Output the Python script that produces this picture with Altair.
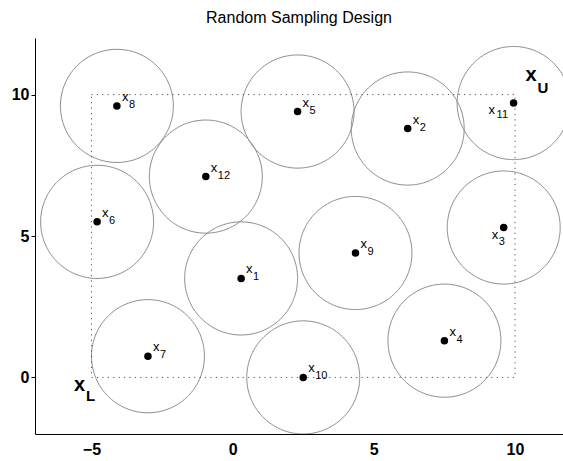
import altair as alt
import numpy as np
import pandas as pd

# Sample points x1..x12
idx = ["1", "2", "3", "4", "5", "6", "7", "8", "9", "10", "11", "12"]
px = [0.3, 6.2, 9.6, 7.5, 2.3, -4.8, -3.0, -4.1, 4.35, 2.5, 9.95, -0.95]
py = [3.5, 8.8, 5.3, 1.3, 9.4, 5.5, 0.75, 9.6, 4.4, 0.0, 9.7, 7.1]
# where each label sits relative to its point
label_side = ["ur", "ur", "ll", "ur", "ur", "ur", "ur", "ur", "ur", "ur", "l", "ur"]
radius = 2.0

# design bounds
lower = (-5, 0)
upper = (10, 10)

x_ticks = [-5, 0, 5, 10]
y_ticks = [0, 5, 10]

pts = pd.DataFrame({"id": idx, "x": px, "y": py, "side": label_side})

# circle outlines around each point
theta = np.linspace(0, 2 * np.pi, 181)
rows = []
for i, cx, cy in zip(idx, px, py):
    for k, t in enumerate(theta):
        rows.append({"id": i, "k": k, "x": cx + radius * np.cos(t), "y": cy + radius * np.sin(t)})
circ = pd.DataFrame(rows)

box = pd.DataFrame({"x": [lower[0]], "y": [lower[1]], "x2": [upper[0]], "y2": [upper[1]]})
corners = pd.DataFrame({"x": [lower[0], upper[0]], "y": [lower[1], upper[1]],
                        "main": ["x", "x"], "sub": ["L", "U"], "which": ["L", "U"]})

FONT = "Liberation Sans"
xs = alt.Scale(domain=[-7, 11.7], nice=False, zero=False)
ys = alt.Scale(domain=[-2, 12], nice=False, zero=False)
X = alt.X("x:Q", scale=xs, axis=alt.Axis(values=x_ticks, title=None, grid=False, tickSize=0,
                                         labelPadding=7, labelFontSize=16, labelFontWeight="bold",
                                         labelFont=FONT, labelColor="black", domainColor="black",
                                         labelFlush=False))
Y = alt.Y("y:Q", scale=ys, axis=alt.Axis(values=y_ticks, title=None, grid=False, tickSize=4,
                                         tickColor="black", labelPadding=2, labelFontSize=16,
                                         labelFontWeight="bold", labelFont=FONT, labelColor="black",
                                         domainColor="black", labelFlush=False))

circles = alt.Chart(circ).mark_line(color="#8c8c8c", strokeWidth=1, clip=True).encode(
    x=X, y=Y, detail="id:N", order="k:Q")

rect = alt.Chart(box).mark_rect(filled=False, stroke="#555555", strokeWidth=1,
                                strokeDash=[1.2, 4.2]).encode(
    x="x:Q", y="y:Q", x2="x2:Q", y2="y2:Q")

dots = alt.Chart(pts).mark_point(filled=True, color="black", size=56, opacity=1).encode(
    x="x:Q", y="y:Q")


def labels(side, dx_main, dy_main, dx_sub, dy_sub):
    base = alt.Chart(pts).transform_filter(alt.datum.side == side)
    m = base.mark_text(text="x", align="left", baseline="middle", font=FONT, fontSize=13,
                       color="black", dx=dx_main, dy=dy_main).encode(x="x:Q", y="y:Q")
    s = base.mark_text(align="left", baseline="middle", font=FONT, fontSize=11,
                       color="black", dx=dx_sub, dy=dy_sub).encode(x="x:Q", y="y:Q", text="id:N")
    return m + s


lab_ur = labels("ur", 5, -9, 12, -1)
lab_ll = labels("ll", -12, 7, -5, 14)
lab_l = labels("l", -25, 7, -17, 12)

cL = alt.Chart(corners).transform_filter(alt.datum.which == "L")
cU = alt.Chart(corners).transform_filter(alt.datum.which == "U")
xL = cL.mark_text(align="center", baseline="middle", font=FONT, fontSize=20, fontWeight="bold",
                  color="black", dx=-12, dy=8).encode(x="x:Q", y="y:Q", text="main:N")
xLs = cL.mark_text(align="center", baseline="middle", font=FONT, fontSize=15, fontWeight="bold",
                   color="black", dx=-1, dy=19).encode(x="x:Q", y="y:Q", text="sub:N")
xU = cU.mark_text(align="center", baseline="middle", font=FONT, fontSize=20, fontWeight="bold",
                  color="black", dx=16, dy=-20).encode(x="x:Q", y="y:Q", text="main:N")
xUs = cU.mark_text(align="center", baseline="middle", font=FONT, fontSize=15, fontWeight="bold",
                   color="black", dx=28, dy=-7).encode(x="x:Q", y="y:Q", text="sub:N")

chart = alt.layer(circles, rect, dots, lab_ur, lab_ll, lab_l, xL, xLs, xU, xUs).properties(
    width=528, height=396,
    padding={"left": 35, "top": 38, "right": 0, "bottom": 27},
    autosize=alt.AutoSizeParams(type="none"),
    title=alt.TitleParams("Random Sampling Design", font=FONT, fontSize=16, fontWeight="normal",
                          color="black", anchor="middle", offset=12),
).configure(background="white").configure_view(stroke=None)

chart.save("out.html", embed_options={"renderer": "svg", "actions": False})
